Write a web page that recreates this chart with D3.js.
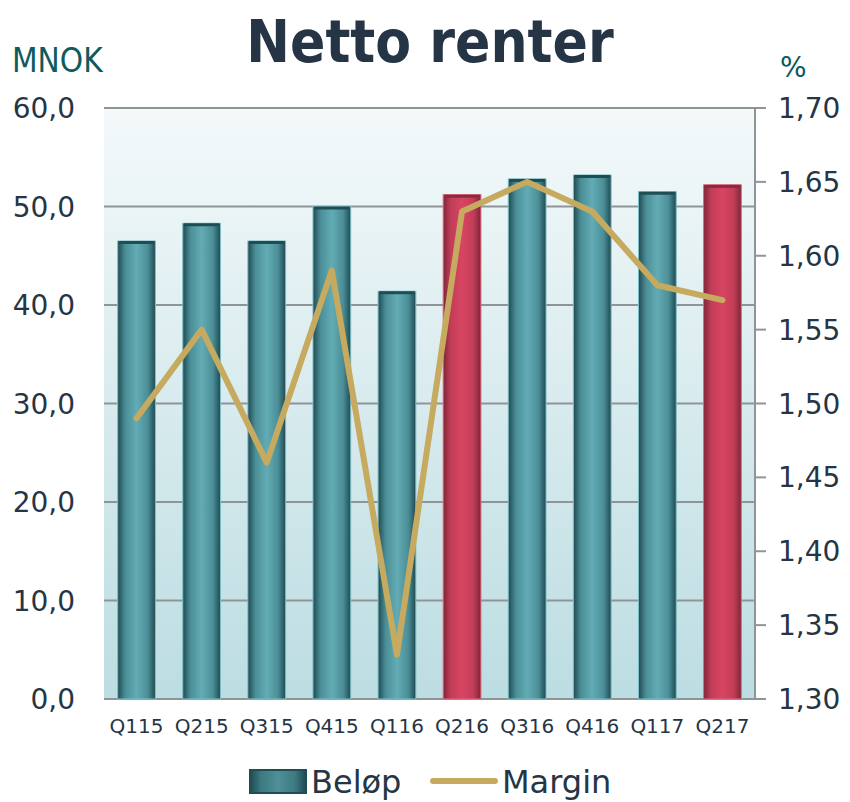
<!DOCTYPE html>
<html>
<head>
<meta charset="utf-8">
<script src="https://cdn.jsdelivr.net/npm/d3@7"></script>
<style>
  html, body { margin: 0; padding: 0; background: #fff; }
  svg { display: block; font-family: "DejaVu Sans", sans-serif; }
</style>
</head>
<body>
<div id="chart"></div>
<script>
// Netto renter — bars (MNOK, left axis) + margin line (%, right axis)
const quarters = ['Q115', 'Q215', 'Q315', 'Q415', 'Q116', 'Q216', 'Q316', 'Q416', 'Q117', 'Q217'];
const belop = [46.5, 48.3, 46.5, 50.0, 41.4, 51.2, 52.8, 53.2, 51.5, 52.2];
const margin = [1.49, 1.55, 1.46, 1.59, 1.33, 1.63, 1.65, 1.63, 1.58, 1.57];
const highlighted = ['Q216', 'Q217'];
const leftTicks = [0, 10, 20, 30, 40, 50, 60];
const rightTicks = [1.30, 1.35, 1.40, 1.45, 1.50, 1.55, 1.60, 1.65, 1.70];

const W = 850, H = 802;
const m = { top: 108, right: 95, bottom: 103, left: 104 };
const iw = W - m.left - m.right, ih = H - m.top - m.bottom;

const svg = d3.select('#chart').append('svg').attr('width', W).attr('height', H);
const defs = svg.append('defs');

const bg = defs.append('linearGradient').attr('id', 'bg').attr('x1', 0).attr('y1', 0).attr('x2', 0).attr('y2', 1);
bg.append('stop').attr('offset', '0%').attr('stop-color', '#f4f9fa');
bg.append('stop').attr('offset', '100%').attr('stop-color', '#bcdde2');

function barGrad(id, edge, mid, center) {
  const g = defs.append('linearGradient').attr('id', id).attr('x1', 0).attr('y1', 0).attr('x2', 1).attr('y2', 0);
  g.append('stop').attr('offset', '0%').attr('stop-color', edge);
  g.append('stop').attr('offset', '20%').attr('stop-color', mid);
  g.append('stop').attr('offset', '50%').attr('stop-color', center);
  g.append('stop').attr('offset', '80%').attr('stop-color', mid);
  g.append('stop').attr('offset', '100%').attr('stop-color', edge);
}
barGrad('teal', '#1f4a51', '#4b8e97', '#63acb5');
barGrad('red', '#7e2536', '#c23d58', '#d84562');
barGrad('leg', '#1f4a51', '#3d7a82', '#4f8f97');

const x = d3.scaleBand().domain(quarters).range([0, iw]).paddingInner(0.42).paddingOuter(0.21);
const y = d3.scaleLinear().domain([0, 60]).range([ih, 0]);
const y2 = d3.scaleLinear().domain([1.30, 1.70]).range([ih, 0]);
const fmt1 = v => d3.format('.1f')(v).replace('.', ',');
const fmt2 = v => d3.format('.2f')(v).replace('.', ',');

const g = svg.append('g').attr('transform', `translate(${m.left},${m.top})`);
g.append('rect').attr('width', iw).attr('height', ih).attr('fill', 'url(#bg)');

// grid
g.selectAll('.grid').data(leftTicks).join('line')
  .attr('x1', 0).attr('x2', iw)
  .attr('y1', d => y(d)).attr('y2', d => y(d))
  .attr('stroke', '#8f9597').attr('stroke-width', 2);

// bars
g.selectAll('.bar').data(quarters).join('rect')
  .attr('x', d => x(d))
  .attr('y', (d, i) => y(belop[i]))
  .attr('width', x.bandwidth())
  .attr('height', (d, i) => ih - y(belop[i]))
  .attr('fill', d => highlighted.includes(d) ? 'url(#red)' : 'url(#teal)')
  .attr('stroke', d => highlighted.includes(d) ? '#e06a80' : '#7fc0c8')
  .attr('stroke-width', 1);
g.selectAll('.cap').data(quarters).join('rect')
  .attr('x', d => x(d) + 1)
  .attr('y', (d, i) => y(belop[i]))
  .attr('width', x.bandwidth() - 2)
  .attr('height', 3)
  .attr('fill', d => highlighted.includes(d) ? '#8c2a3d' : '#1f4d54');

// right axis line + ticks
g.append('line').attr('x1', iw).attr('x2', iw).attr('y1', 0).attr('y2', ih)
  .attr('stroke', '#8f9597').attr('stroke-width', 2);
g.selectAll('.rtick').data(rightTicks).join('line')
  .attr('x1', iw).attr('x2', iw + 11)
  .attr('y1', d => y2(d)).attr('y2', d => y2(d))
  .attr('stroke', '#8f9597').attr('stroke-width', 2);

// margin line
g.append('path').datum(margin)
  .attr('fill', 'none').attr('stroke', '#c6aa5f').attr('stroke-width', 6)
  .attr('stroke-linejoin', 'round').attr('stroke-linecap', 'round')
  .attr('d', d3.line().x((d, i) => x(quarters[i]) + x.bandwidth() / 2).y(d => y2(d)));

// axis labels
g.selectAll('.ltxt').data(leftTicks).join('text')
  .attr('x', -29).attr('y', d => y(d)).attr('dy', '0.36em')
  .attr('text-anchor', 'end').attr('font-size', 28).attr('fill', '#253545')
  .text(fmt1);
g.selectAll('.rtxt').data(rightTicks).join('text')
  .attr('x', iw + 23).attr('y', d => y2(d)).attr('dy', '0.36em')
  .attr('font-size', 28).attr('fill', '#253545')
  .text(fmt2);
g.selectAll('.xtxt').data(quarters).join('text')
  .attr('x', d => x(d) + x.bandwidth() / 2).attr('y', ih + 34)
  .attr('text-anchor', 'middle').attr('font-size', 20).attr('fill', '#253545')
  .text(d => d);

// titles
svg.append('text').attr('x', 430).attr('y', 62).attr('text-anchor', 'middle')
  .attr('font-family', '"DejaVu Sans Condensed", sans-serif').attr('font-weight', 'bold')
  .attr('font-size', 58).attr('fill', '#253545').text('Netto renter');
svg.append('text').attr('x', 12).attr('y', 72).attr('font-size', 33)
  .attr('fill', '#0e5a5c').attr('font-family', '"DejaVu Sans Condensed", sans-serif').text('MNOK');
svg.append('text').attr('x', 780).attr('y', 77).attr('font-size', 28)
  .attr('fill', '#0e5a5c').text('%');

// legend
const lg = svg.append('g');
lg.append('rect').attr('x', 250).attr('y', 770).attr('width', 56).attr('height', 23)
  .attr('fill', 'url(#leg)').attr('stroke', '#1f4d54').attr('stroke-width', 2);
lg.append('text').attr('x', 311).attr('y', 793).attr('font-size', 32).attr('fill', '#253545').text('Beløp');
lg.append('line').attr('x1', 433).attr('x2', 495).attr('y1', 781).attr('y2', 781)
  .attr('stroke', '#c6aa5f').attr('stroke-width', 6).attr('stroke-linecap', 'round');
lg.append('text').attr('x', 502).attr('y', 793).attr('font-size', 32).attr('fill', '#253545').text('Margin');
</script>
</body>
</html>
